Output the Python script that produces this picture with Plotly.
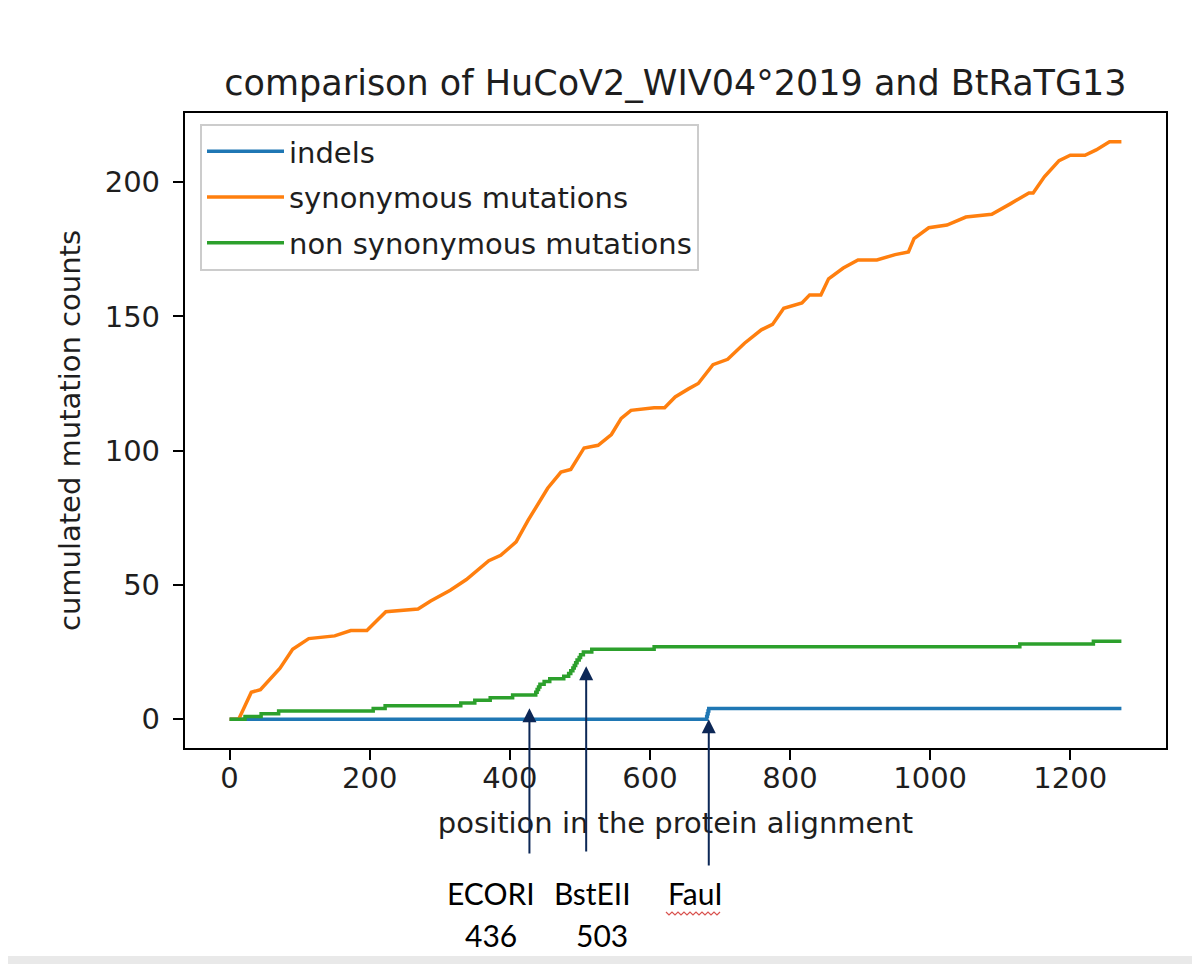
import plotly.graph_objects as go

# ---------------- data ----------------
indel_pos = [0, 681, 682, 683, 684, 1273]
indel_cnt = [0, 1, 2, 3, 4, 4]

syn_pos = [0, 13, 31, 44, 72, 90, 113, 150, 173, 196, 223, 269, 287, 315, 338, 370,
           387, 409, 426, 454, 473, 487, 506, 526, 545, 559, 573, 606, 621, 636, 655,
           669, 690, 711, 735, 759, 775, 791, 817, 828, 844, 855, 876, 897, 924, 950,
           969, 977, 998, 1024, 1051, 1088, 1115, 1141, 1147, 1163, 1184, 1200, 1221,
           1237, 1256, 1273]
syn_cnt = [0, 0, 10, 11, 19, 26, 30, 31, 33, 33, 40, 41, 44, 48, 52, 59,
           61, 66, 74, 86, 92, 93, 101, 102, 106, 112, 115, 116, 116, 120, 123,
           125, 132, 134, 140, 145, 147, 153, 155, 158, 158, 164, 168, 171, 171, 173,
           174, 179, 183, 184, 187, 188, 192, 196, 196, 202, 208, 210, 210,
           212, 215, 215]

nonsyn_pos = [0, 22, 45, 70, 205, 222, 330, 350, 372, 404, 437, 439, 441, 443, 449,
              457, 477, 484, 487, 490, 492, 494, 496, 499, 501, 505, 517, 606, 1128,
              1233, 1273]
nonsyn_cnt = [0, 1, 2, 3, 4, 5, 6, 7, 8, 9, 10, 11, 12, 13, 14,
              15, 16, 17, 18, 19, 20, 21, 22, 23, 24, 25, 26, 27, 28,
              29, 29]

x_ticks = [0, 200, 400, 600, 800, 1000, 1200]
y_ticks = [0, 50, 100, 150, 200]

# restriction sites marked below the chart
site_names = ["ECORI", "BstEII", "FauI"]
site_numbers = ["436", "503", ""]
site_arrow_x = [428, 509, 684]      # where the hand-drawn arrows sit
site_arrow_tip = [4.1, 19.7, 0.0]   # arrow tip heights (counts)

# ---------------- figure geometry (screen pixels) ----------------
W, H = 1200, 964
OFF = 8                      # page body margin
L, R, T, B = 185, 1166, 113, 748   # plot-area box on screen


def px_x(p):
    return (p - L) / (R - L)


def px_y(p):
    return (B - p) / (B - T)


blue, orange, green = "#1f77b4", "#ff7f0e", "#2ca02c"
txt = "#1e1e1e"
font_fam = "DejaVu Sans"
lw = 3.5

fig = go.Figure()
fig.add_trace(go.Scatter(x=indel_pos, y=indel_cnt, mode="lines", name="indels",
                         line=dict(color=blue, width=lw, shape="hv"), legendgroup="a"))
fig.add_trace(go.Scatter(x=syn_pos, y=syn_cnt, mode="lines", name="synonymous mutations",
                         line=dict(color=orange, width=lw), legendgroup="b"))
fig.add_trace(go.Scatter(x=nonsyn_pos, y=nonsyn_cnt, mode="lines",
                         name="non synonymous mutations",
                         line=dict(color=green, width=lw, shape="hv"), legendgroup="c"))

xmin, xmax = 0, 1273
ymin, ymax = 0, 215
xpad = 0.05 * (xmax - xmin)
ypad = 0.05 * (ymax - ymin)

axis_common = dict(showline=True, linecolor="#000000", linewidth=2.3, mirror=True,
                   ticks="outside", ticklen=10, tickwidth=2.3, tickcolor="#000000",
                   showgrid=False, zeroline=False,
                   tickfont=dict(family=font_fam, size=29, color=txt))

fig.update_layout(
    width=W, height=H,
    margin=dict(l=L - OFF, r=W - (R - OFF), t=T - OFF, b=H - (B - OFF)),
    paper_bgcolor="white", plot_bgcolor="white",
    title=dict(text="comparison of HuCoV2_WIV04°2019 and BtRaTG13",
               x=0.5, xref="paper", xanchor="center",
               y=1 - (83 - OFF) / H, yref="container", yanchor="middle",
               font=dict(family=font_fam, size=35, color=txt)),
    xaxis=dict(range=[xmin - xpad, xmax + xpad], tickvals=x_ticks,
               ticklabelstandoff=-7,
               title=dict(text="position in the protein alignment",
                          font=dict(family=font_fam, size=29, color=txt), standoff=19),
               **axis_common),
    yaxis=dict(range=[ymin - ypad, ymax + ypad], tickvals=y_ticks,
               ticklabelstandoff=7,
               title=dict(text="cumulated mutation counts",
                          font=dict(family=font_fam, size=29, color=txt), standoff=16),
               **axis_common),
    legend=dict(x=px_x(200), y=px_y(124), xanchor="left", yanchor="top",
                bgcolor="rgba(255,255,255,0.85)", bordercolor="#cccccc", borderwidth=2,
                font=dict(family=font_fam, size=29, color=txt),
                itemwidth=77, tracegroupgap=5, traceorder="grouped"),
    showlegend=True,
)

# arrows pointing to restriction sites
arrow_color = "#0c2756"
tails = [855, 853, 867]
for xa, tip, tail in zip(site_arrow_x, site_arrow_tip, tails):
    tip_px = B - (tip - (ymin - ypad)) / ((ymax + ypad) - (ymin - ypad)) * (B - T)
    fig.add_annotation(x=xa, y=tip, xref="x", yref="y", text="", showarrow=True,
                       ax=0, ay=tail - tip_px, axref="pixel", ayref="pixel",
                       arrowhead=2, arrowsize=1.4, arrowwidth=2, arrowcolor=arrow_color,
                       standoff=0)

label_font = dict(family="Lato", size=30, color="#000000")
name_px = [491, 592, 695]
num_px = [491, 602, 0]
for nm, nx in zip(site_names, name_px):
    fig.add_annotation(x=px_x(nx), y=px_y(893), xref="paper", yref="paper", text=nm,
                       showarrow=False, font=label_font, xanchor="center", yanchor="middle")
for nb, nx in zip(site_numbers, num_px):
    if nb:
        fig.add_annotation(x=px_x(nx), y=px_y(935), xref="paper", yref="paper", text=nb,
                           showarrow=False, font=label_font, xanchor="center",
                           yanchor="middle")

# red spell-check squiggle under "FauI"
pts = []
xx = 666
k = 0
while xx <= 722:
    yy = 912 if k % 2 == 0 else 915
    pts.append(f"{px_x(xx):.5f},{px_y(yy):.5f}")
    xx += 3
    k += 1
fig.add_shape(type="path", xref="paper", yref="paper",
              path="M " + " L ".join(pts), line=dict(color="#d9534f", width=1.2))

# light band at the bottom of the screenshot
fig.add_shape(type="rect", xref="paper", yref="paper", x0=px_x(OFF), x1=px_x(W + OFF),
              y0=px_y(H + OFF), y1=px_y(956), fillcolor="#e9e9e9", line=dict(width=0))

fig.write_html("out.html")
